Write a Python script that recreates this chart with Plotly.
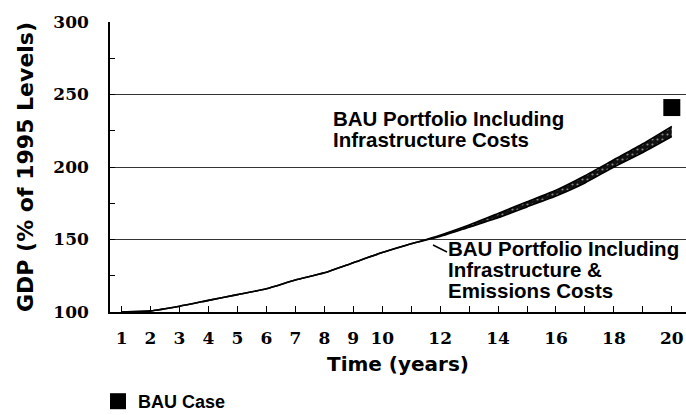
import plotly.graph_objects as go

# ---- data ----
years = list(range(1, 21))
gdp_infra = [100, 100.8, 104, 108, 112, 116, 122, 127, 134, 141,
             147, 153, 160, 168, 176, 184, 194, 205, 216, 228]
gdp_infra_emis = [100, 100.8, 104, 108, 112, 116, 122, 127, 134, 141,
                  147, 152, 158.5, 165, 172.5, 180, 189, 200, 210, 221]
bau_year = [20]
bau_gdp = [241]

x_tickvals = [1, 2, 3, 4, 5, 6, 7, 8, 9, 10, 12, 14, 16, 18, 20]
x_minor = [11, 13, 15, 17, 19]
y_tickvals = [100, 150, 200, 250, 300]
y_minor = [125, 175, 225, 275]

label_top = ["BAU Portfolio Including", "Infrastructure Costs"]
label_bottom = ["BAU Portfolio Including", "Infrastructure &", "Emissions Costs"]

# ---- geometry helpers (pixel -> paper) ----
W, H = 686, 415
L, R, T, B = 110, 0, 22, 103
PW, PH = W - L - R, H - T - B


def px(x):
    return (x - L) / PW


def py(y):
    return (H - B - y) / PH


TICKFONT = dict(family="DejaVu Serif", size=17, color="black", weight="bold")
ANNFONT = dict(family="Liberation Sans", size=20.5, color="black", weight="bold")

fig = go.Figure()

fig.add_trace(go.Scatter(
    x=years, y=gdp_infra, mode="lines", name="BAU Portfolio Including Infrastructure Costs",
    line=dict(color="black", width=1.6, shape="spline", smoothing=0.6),
    showlegend=False, hoverinfo="x+y"))
fig.add_trace(go.Scatter(
    x=years, y=gdp_infra_emis, mode="lines",
    name="BAU Portfolio Including Infrastructure & Emissions Costs",
    line=dict(color="black", width=1.6, shape="spline", smoothing=0.6),
    fill="tonexty", fillcolor="#111111",
    fillpattern=dict(shape=".", fgcolor="white", bgcolor="#111111", size=5, solidity=0.15),
    showlegend=False, hoverinfo="x+y"))
fig.add_trace(go.Scatter(
    x=bau_year, y=bau_gdp, mode="markers", name="BAU Case",
    marker=dict(symbol="square", size=17, color="black"),
    showlegend=True))

annotations = []
for txt, yy in zip(label_top, [118.2, 139.2]):
    annotations.append(dict(text=txt, xref="paper", yref="paper", x=px(331), y=py(yy),
                            xanchor="left", yanchor="middle", showarrow=False, font=ANNFONT))
for txt, yy in zip(label_bottom, [248.4, 269.5, 290.4]):
    annotations.append(dict(text=txt, xref="paper", yref="paper", x=px(446), y=py(yy),
                            xanchor="left", yanchor="middle", showarrow=False, font=ANNFONT))

fig.update_layout(
    width=W, height=H,
    margin=dict(l=L, r=R, t=T, b=B, autoexpand=False),
    paper_bgcolor="white", plot_bgcolor="white",
    annotations=annotations,
    shapes=[dict(type="line", xref="paper", yref="paper",
                 x0=px(433), y0=py(245), x1=px(447), y1=py(252),
                 line=dict(color="black", width=1.5))],
    showlegend=True,
    legend=dict(x=px(98), y=py(401.5), xanchor="left", yanchor="middle",
                font=dict(family="Liberation Sans", size=18, color="black", weight="bold"),
                bgcolor="rgba(0,0,0,0)"),
    xaxis=dict(
        range=[0.6, 20.49], tickvals=x_tickvals, ticktext=[str(v) for v in x_tickvals],
        ticks="inside", ticklen=6, tickcolor="black", tickwidth=1.2,
        minor=dict(tickvals=x_minor, ticks="inside", ticklen=6, tickcolor="black", tickwidth=1.2),
        showline=True, linecolor="black", linewidth=1.6, showgrid=False, zeroline=False,
        tickfont=TICKFONT, ticklabelstandoff=10, automargin=False,
        title=dict(text="Time (years)", standoff=10,
                   font=dict(family="DejaVu Sans", size=20, color="black", weight="bold")),
    ),
    yaxis=dict(
        range=[100, 300], tickvals=y_tickvals, ticktext=[str(v) for v in y_tickvals],
        ticks="inside", ticklen=5, tickcolor="black", tickwidth=1.2,
        minor=dict(tickvals=y_minor, ticks="inside", ticklen=5, tickcolor="black", tickwidth=1.2),
        showline=True, linecolor="black", linewidth=1.6,
        showgrid=True, gridcolor="#333333", gridwidth=1, zeroline=False,
        tickfont=TICKFONT, ticklabelstandoff=16, automargin=False,
        title=dict(text="GDP (% of 1995 Levels)", standoff=14,
                   font=dict(family="DejaVu Sans", size=22, color="black", weight="bold")),
    ),
)

fig.write_html("out.html", config={"displayModeBar": False},
               post_script="document.body.style.margin='0px';document.body.style.overflow='hidden';")
